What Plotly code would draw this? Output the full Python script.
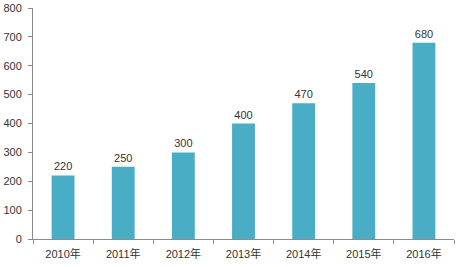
import plotly.graph_objects as go

categories = ["2010年", "2011年", "2012年", "2013年", "2014年", "2015年", "2016年"]
values = [220, 250, 300, 400, 470, 540, 680]
y_ticks = [0, 100, 200, 300, 400, 500, 600, 700, 800]

fig = go.Figure(go.Bar(
    x=categories, y=values,
    marker=dict(color="#4AADC6", line=dict(width=0)),
    width=0.38,
    text=[str(v) for v in values],
    textposition="outside",
    textfont=dict(size=11, color="#333333"),
    cliponaxis=False,
))

fig.update_layout(
    width=456, height=267,
    margin=dict(l=33, r=2, t=6, b=28),
    paper_bgcolor="white", plot_bgcolor="white",
    font=dict(family="Liberation Sans, DejaVu Sans, Noto Sans CJK SC", size=11, color="#333333"),
    showlegend=False,
)
fig.update_xaxes(
    showline=True, linecolor="#8C8C8C", linewidth=1,
    ticks="outside", tickson="boundaries", ticklen=4, tickcolor="#8C8C8C",
    showgrid=False, tickfont=dict(size=11, color="#333333"),
    ticklabelstandoff=5,
)
fig.update_yaxes(
    range=[0, 800], tickvals=y_ticks,
    showline=True, linecolor="#8C8C8C", linewidth=1,
    ticks="outside", ticklen=4, tickcolor="#8C8C8C",
    showgrid=False, zeroline=False, tickfont=dict(size=11, color="#333333"),
    ticklabeloverflow="allow", ticklabelstandoff=4,
)

fig.write_html("out.html")
